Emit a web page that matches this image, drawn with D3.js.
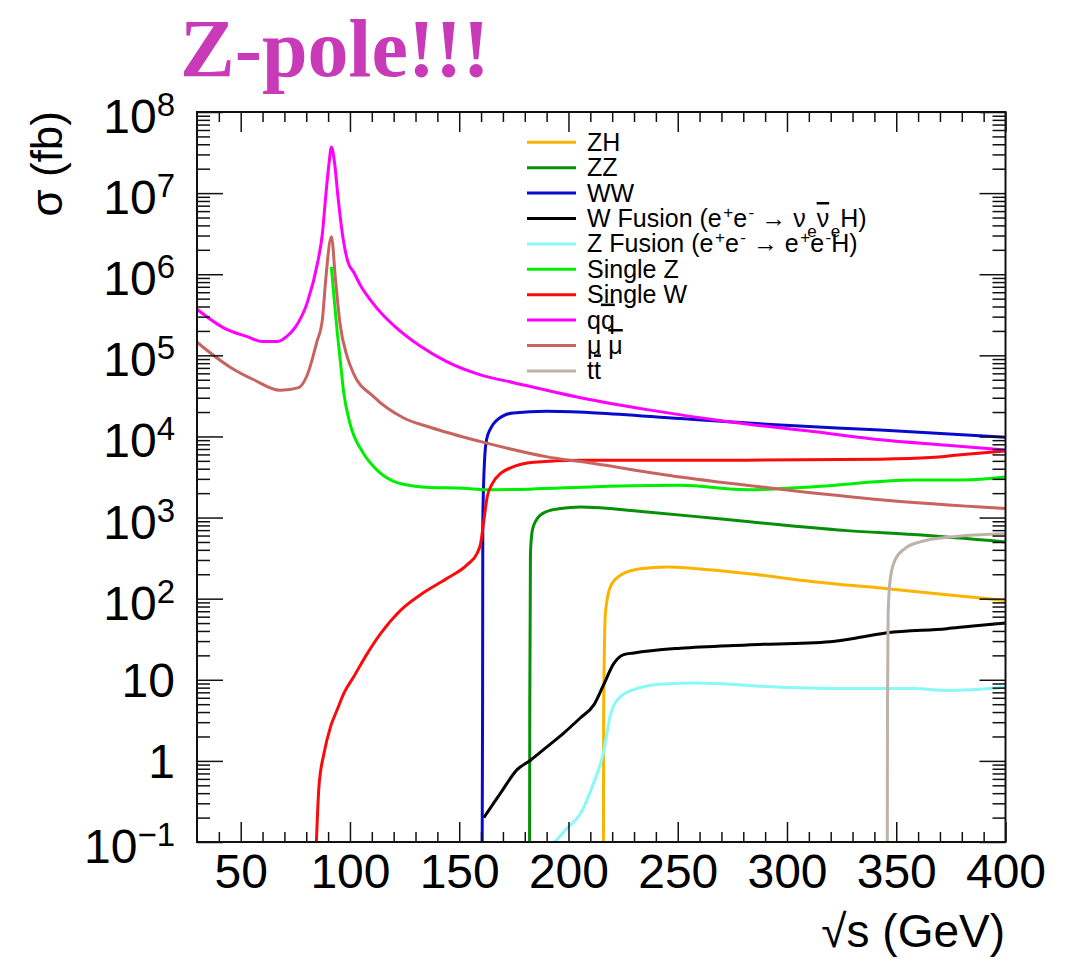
<!DOCTYPE html>
<html>
<head>
<meta charset="utf-8">
<script src="https://cdn.jsdelivr.net/npm/d3@7"></script>
<style>
  body { margin: 0; background: #fff; }
  svg text { font-family: "Liberation Sans", Arial, Helvetica, sans-serif; fill: #000; }
</style>
</head>
<body>
<div id="chart"></div>
<script>
// ---- data: sqrt(s) in GeV, cross sections in fb ----
var zhE  = [216.0, 216.1, 216.9, 219.2, 223.8, 232.9, 245.1, 258.9, 281.7, 312.2, 342.7, 373.2, 400];
var zhXs = [0.08, 3.9, 66, 141, 195, 234, 245, 234, 204, 162, 135, 112, 95];

var zzE  = [182.2, 182.3, 182.6, 183.5, 185.3, 189.4, 196.3, 205.5, 236, 266.5, 297, 327.5, 357.9, 400];
var zzXs = [0.08, 5.6, 363, 708, 933, 1170, 1290, 1350, 1170, 980, 813, 690, 617, 500];

var wwE  = [160.5, 160.7, 160.8, 161.6, 162.5, 164.4, 167.1, 174.7, 189.9, 212.8, 251.2, 297, 342.7, 400];
var wwXs = [0.08, 5.6, 930, 5100, 9100, 12600, 15800, 19500, 20400, 19500, 16600, 13800, 12000, 9800];

var wFusE  = [161.3, 168.9, 176.5, 182.6, 190.3, 197.8, 205.5, 211.6, 216.1, 220.7, 225.3, 229.9, 251.2, 281.7, 319.8, 335, 345.8, 373.2, 383.9, 400];
var wFusXs = [0.2, 0.4, 0.78, 1.02, 1.5, 2.2, 3.4, 4.9, 8.7, 15.8, 20.4, 21.4, 24.5, 26.9, 29.5, 33.9, 38, 42.7, 45.7, 50];

var zFusE  = [193, 199.4, 205.5, 211.6, 216.1, 219.2, 223.8, 231.4, 243.6, 258.9, 297, 327.5, 357.9, 373.2, 400];
var zFusXs = [0.095, 0.148, 0.224, 0.54, 1.29, 3.7, 6.2, 7.8, 8.9, 9.1, 8.1, 7.8, 7.8, 7.4, 8.1];

var singleZE  = [91.5, 92.7, 94.2, 95.4, 97.2, 100, 106, 111, 115.3, 120, 124.4, 136.6, 151.8, 162.5, 182.3, 212.8, 251.2, 281.7, 312.2, 357.9, 380.8, 400];
var singleZXs = [1.23e6, 5.2e5, 1.9e5, 9.5e4, 3.4e4, 1.45e4, 6.3e3, 4.2e3, 3.3e3, 2.8e3, 2.57e3, 2.35e3, 2.3e3, 2.2e3, 2.24e3, 2.4e3, 2.5e3, 2.2e3, 2.4e3, 2.9e3, 2.9e3, 3.16e3];

var singleWE  = [84.5, 85.8, 88.1, 91.1, 94.2, 97.2, 101.8, 107.9, 114, 123.2, 132.3, 144.5, 153.7, 158.2, 159.8, 161.3, 162.8, 165.1, 169.2, 173.5, 184.1, 205.5, 281.7, 342.7, 365.6, 380.8, 400];
var singleWXs = [0.08, 0.48, 1.23, 2.63, 4.3, 6.8, 11, 21, 37, 72, 112, 178, 263, 363, 479, 930, 1800, 2600, 3550, 4100, 4800, 5100, 5100, 5250, 5500, 6000, 6600];

var qqE  = [30, 42, 53, 60, 67, 71, 75.1, 80.5, 85.1, 87.4, 88.9, 90.4, 91.5, 93.0, 94.5, 96.5, 99.1, 101.8, 104.9, 109.4, 115, 120, 132.3, 144.5, 159.7, 175, 205.5, 236, 274, 312, 342.7, 373.2, 400];
var qqXs = [3.7e5, 2.2e5, 1.7e5, 1.48e5, 1.48e5, 1.7e5, 2.24e5, 4.5e5, 1.35e6, 3.2e6, 9.1e6, 2.3e7, 3.7e7, 2.3e7, 9.1e6, 3.2e6, 1.41e6, 1.05e6, 7.2e5, 4.8e5, 3.16e5, 2.34e5, 1.29e5, 8.3e4, 5.75e4, 4.6e4, 3.0e4, 2.14e4, 1.51e4, 1.15e4, 9.1e3, 7.8e3, 6.8e3];

var mumuE  = [30, 45, 56, 68, 76.5, 80.3, 84.8, 87.4, 88.9, 91.5, 93.4, 95.4, 98.8, 101.6, 110.8, 124.4, 136.6, 159.5, 190.3, 205.5, 251.2, 300, 342.7, 400];
var mumuXs = [1.45e5, 7.2e4, 5.0e4, 3.7e4, 4.0e4, 5.6e4, 1.45e5, 2.8e5, 8.5e5, 2.9e6, 8.5e5, 2.5e5, 9.5e4, 6.0e4, 3.1e4, 1.7e4, 1.3e4, 8.7e3, 5.6e3, 4.9e3, 3.16e3, 2.19e3, 1.66e3, 1.29e3];

var ttE  = [345.9, 346.0, 346.3, 347.2, 349.5, 354.1, 360.9, 374.7, 400];
var ttXs = [0.08, 5.6, 66, 170, 302, 417, 501, 575, 631];

// legend labels as text pieces: [text, kind] kind = sup / sub / bar
var legendLabels = [
  [["ZH"]],
  [["ZZ"]],
  [["WW"]],
  [["W Fusion (e"], ["+", "sup"], ["e"], ["-", "sup"], [" \u2192 \u03bd"], ["e", "sub"], ["\u03bd", "bar"], ["e", "sub"], ["H)"]],
  [["Z Fusion (e"], ["+", "sup"], ["e"], ["-", "sup"], [" \u2192 e"], ["+", "sup"], ["e"], ["-", "sup"], ["H)"]],
  [["Single Z"]],
  [["Single W"]],
  [["q"], ["q", "bar"]],
  [["\u03bc  "], ["\u03bc", "bar"]],
  [["t"], ["t", "bar"]]
];
var seriesColors = ["#fbb300", "#078f07", "#0a0acc", "#000000", "#88f8f8", "#00ee00", "#fa0a0a", "#ff00ff", "#c8645f", "#bdb2aa"];

var xMajor = [50, 100, 150, 200, 250, 300, 350, 400];
var yMajor = [0.1, 1, 10, 100, 1e3, 1e4, 1e5, 1e6, 1e7, 1e8];

// 1. svg + plot box --------------------------------
var svgWidth = 1068;
var svgHeight = 963;
var box = { left: 197, right: 1005.5, top: 112, bottom: 842 };

var svg = d3.select("#chart")
  .append("svg")
  .attr("width", svgWidth)
  .attr("height", svgHeight);

var xScale = d3.scaleLinear().domain([30, 400]).range([box.left, box.right]);
var yScale = d3.scaleLog().domain([0.1, 1e8]).range([box.bottom, box.top]);

// 2. curves -----------------------------------------
svg.append("clipPath").attr("id", "plotClip")
  .append("rect")
  .attr("x", box.left).attr("y", box.top)
  .attr("width", box.right - box.left).attr("height", box.bottom - box.top);

var allE  = [zhE, zzE, wwE, wFusE, zFusE, singleZE, singleWE, qqE, mumuE, ttE];
var allXs = [zhXs, zzXs, wwXs, wFusXs, zFusXs, singleZXs, singleWXs, qqXs, mumuXs, ttXs];
var series = allE.map((e, i) => ({ color: seriesColors[i], pts: e.map((v, j) => [v, allXs[i][j]]) }));

var lineGen = d3.line()
  .x(d => xScale(d[0]))
  .y(d => yScale(d[1]))
  .curve(d3.curveMonotoneX);

svg.append("g")
  .attr("clip-path", "url(#plotClip)")
  .selectAll("path").data(series).enter().append("path")
  .attr("d", d => lineGen(d.pts))
  .attr("fill", "none")
  .attr("stroke", d => d.color)
  .attr("stroke-width", 3)
  .attr("stroke-linejoin", "round");

// 3. axes (ticks inside, ROOT style) ---------------
var xMinor = d3.range(40, 400, 10).filter(v => v % 50 !== 0);
var yMinor = [];
d3.range(-1, 8).forEach(p => { for (var k = 2; k <= 9; k++) yMinor.push(k * Math.pow(10, p)); });

function styleTicks(g) {
  g.select(".domain").remove();
  g.selectAll("line").attr("stroke", "#111").attr("stroke-width", 1.5);
}

svg.append("g").attr("transform", `translate(0, ${box.bottom})`)
  .call(d3.axisBottom(xScale).tickValues(xMinor).tickSize(-10).tickFormat(""))
  .call(styleTicks);
var xAxisG = svg.append("g").attr("transform", `translate(0, ${box.bottom})`)
  .call(d3.axisBottom(xScale).tickValues(xMajor).tickSize(-20).tickPadding(12).tickFormat(d3.format("d")))
  .call(styleTicks);
xAxisG.selectAll("text").attr("font-size", 48).attr("dy", "0.71em");

svg.append("g").attr("transform", `translate(0, ${box.top})`)
  .call(d3.axisTop(xScale).tickValues(xMinor).tickSize(-10).tickFormat(""))
  .call(styleTicks);
svg.append("g").attr("transform", `translate(0, ${box.top})`)
  .call(d3.axisTop(xScale).tickValues(xMajor).tickSize(-20).tickFormat(""))
  .call(styleTicks);

svg.append("g").attr("transform", `translate(${box.left}, 0)`)
  .call(d3.axisLeft(yScale).tickValues(yMinor).tickSize(-13).tickFormat(""))
  .call(styleTicks);
var yAxisG = svg.append("g").attr("transform", `translate(${box.left}, 0)`)
  .call(d3.axisLeft(yScale).tickValues(yMajor).tickSize(-26).tickPadding(22).tickFormat(""))
  .call(styleTicks);

svg.append("g").attr("transform", `translate(${box.right}, 0)`)
  .call(d3.axisRight(yScale).tickValues(yMinor).tickSize(-13).tickFormat(""))
  .call(styleTicks);
svg.append("g").attr("transform", `translate(${box.right}, 0)`)
  .call(d3.axisRight(yScale).tickValues(yMajor).tickSize(-26).tickFormat(""))
  .call(styleTicks);

// y labels: 10^n with superscript, plain for 1 and 10
yAxisG.selectAll(".tick text").each(function(d) {
  var t = d3.select(this).attr("font-size", 48).attr("text-anchor", "end");
  var p = Math.round(Math.log10(d));
  if (p === 0 || p === 1) {
    t.attr("dy", 17).text(String(d));
  } else {
    t.attr("dy", 20.5).text("");
    t.append("tspan").text("10");
    t.append("tspan").attr("font-size", 33).attr("baseline-shift", 17)
      .text(p < 0 ? "\u2212" + Math.abs(p) : String(p));
  }
});

// frame
svg.append("rect")
  .attr("x", box.left).attr("y", box.top)
  .attr("width", box.right - box.left).attr("height", box.bottom - box.top)
  .attr("fill", "none").attr("stroke", "#111").attr("stroke-width", 2);

// axis titles
svg.append("text")
  .attr("transform", "translate(1005, 947)")
  .attr("text-anchor", "end")
  .attr("font-size", 46)
  .call(t => {
    t.append("tspan").text("\u221a");
    t.append("tspan").text("s");
    t.append("tspan").text(" (GeV)");
  });

svg.append("text")
  .attr("transform", "translate(62, 111) rotate(-90)")
  .attr("text-anchor", "end")
  .attr("font-size", 44)
  .text("\u03c3 (fb)");

// 4. legend -----------------------------------------
var legend = svg.append("g");
legendLabels.forEach((pieces, i) => {
  var ly = 142.3 + i * 25.4;
  legend.append("line")
    .attr("x1", 527).attr("x2", 576)
    .attr("y1", ly).attr("y2", ly)
    .attr("stroke", seriesColors[i]).attr("stroke-width", 3);
  var t = legend.append("text")
    .attr("x", 587).attr("y", ly + 8.5)
    .attr("font-size", 25);
  pieces.forEach(p => {
    var s = t.append("tspan").text(p[0]);
    if (p[1] === "sup") s.attr("font-size", 17).attr("baseline-shift", "super").attr("dx", 1.5);
    if (p[1] === "sub") s.attr("font-size", 17).attr("baseline-shift", "sub").attr("dx", 1.5);
    if (p[1] === "bar") s.style("text-decoration", "overline");
  });
});

// title
svg.append("text")
  .attr("x", 180).attr("y", 76)
  .style("font-family", "'Liberation Serif', 'DejaVu Serif', serif")
  .style("font-weight", "bold")
  .style("font-size", "82px")
  .style("fill", "#c83ab8")
  .text("Z-pole!!!");
</script>
</body>
</html>
